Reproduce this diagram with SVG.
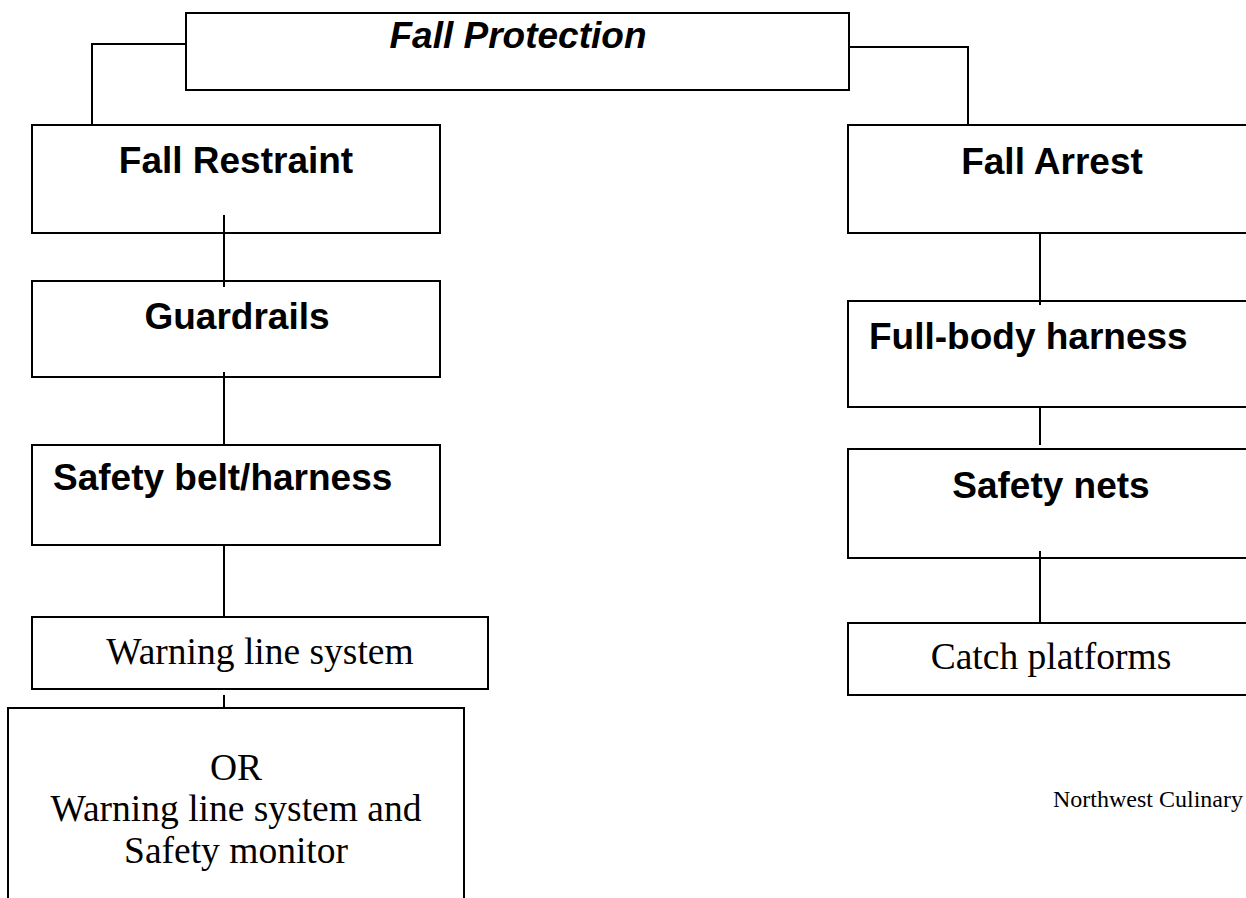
<svg xmlns="http://www.w3.org/2000/svg" width="1246" height="898" viewBox="0 0 1246 898">
<style>
.box{fill:#fff;stroke:#000;stroke-width:2}
.ln{stroke:#000;stroke-width:2;fill:none}
.b{font-family:"Liberation Sans",Arial,sans-serif;font-weight:bold;font-size:37px;fill:#000}
.s{font-family:"Liberation Serif","Times New Roman",serif;font-size:37.5px;fill:#000}
</style>
<rect width="1246" height="898" fill="#fff"/>
<g id="fall-protection">
<rect class="box" x="186" y="13" width="663" height="77"/>
<text class="b" x="518" y="48" text-anchor="middle" font-style="italic">Fall Protection</text>
</g>
<g id="fall-restraint">
<rect class="box" x="32" y="125" width="408" height="108"/>
<text class="b" x="236" y="173" text-anchor="middle">Fall Restraint</text>
</g>
<g id="guardrails">
<rect class="box" x="32" y="281" width="408" height="96"/>
<text class="b" x="237" y="329" text-anchor="middle">Guardrails</text>
</g>
<g id="safety-belt">
<rect class="box" x="32" y="445" width="408" height="100"/>
<text class="b" x="53" y="490">Safety belt/harness</text>
</g>
<g id="warning-line">
<rect class="box" x="32" y="617" width="456" height="72"/>
<text class="s" x="260" y="664" text-anchor="middle">Warning line system</text>
</g>
<g id="or-warning-monitor">
<rect class="box" x="8" y="708" width="456" height="210"/>
<text class="s" x="236" y="780" text-anchor="middle" font-size="26">OR</text>
<text class="s" x="236" y="821" text-anchor="middle">Warning line system and</text>
<text class="s" x="236" y="863" text-anchor="middle">Safety monitor</text>
</g>
<g id="fall-arrest">
<rect class="box" x="848" y="125" width="410" height="108"/>
<text class="b" x="1052" y="174" text-anchor="middle">Fall Arrest</text>
</g>
<g id="full-body-harness">
<rect class="box" x="848" y="301" width="410" height="106"/>
<text class="b" x="869" y="349">Full-body harness</text>
</g>
<g id="safety-nets">
<rect class="box" x="848" y="449" width="410" height="109"/>
<text class="b" x="1051" y="498" text-anchor="middle">Safety nets</text>
</g>
<g id="catch-platforms">
<rect class="box" x="848" y="623" width="410" height="72"/>
<text class="s" x="1051" y="669" text-anchor="middle" font-size="37">Catch platforms</text>
</g>
<g id="connectors">
<polyline class="ln" points="187,44 92,44 92,126"/>
<polyline class="ln" points="849,47 968,47 968,126"/>
<line class="ln" x1="224" y1="215" x2="224" y2="287"/>
<line class="ln" x1="224" y1="372" x2="224" y2="445"/>
<line class="ln" x1="224" y1="545" x2="224" y2="617"/>
<line class="ln" x1="224" y1="695" x2="224" y2="708"/>
<line class="ln" x1="1040" y1="233" x2="1040" y2="305"/>
<line class="ln" x1="1040" y1="407" x2="1040" y2="445"/>
<line class="ln" x1="1040" y1="551" x2="1040" y2="623"/>
</g>
<text x="1053" y="807" font-family="Liberation Serif,'Times New Roman',serif" font-size="24" fill="#000">Northwest Culinary</text>
</svg>
